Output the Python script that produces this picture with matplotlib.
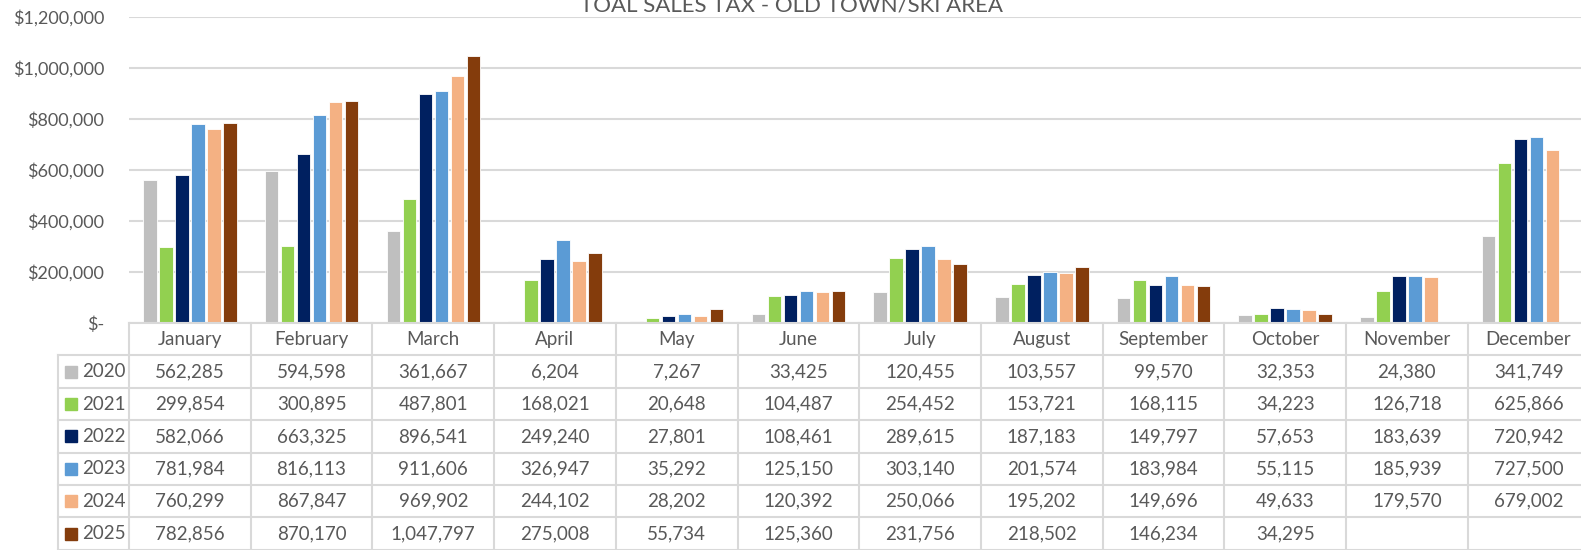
import matplotlib
matplotlib.use("Agg")
import matplotlib.pyplot as plt
from matplotlib.patches import Rectangle
from matplotlib.ticker import FuncFormatter
import numpy as np

# =========================
# Data
# =========================

months = ["January", "February", "March", "April", "May", "June",
          "July", "August", "September", "October", "November", "December"]

years = ["2020", "2021", "2022", "2023", "2024", "2025"]

sales_2020 = [562285, 594598, 361667, 6204, 7267, 33425, 120455, 103557, 99570, 32353, 24380, 341749]
sales_2021 = [299854, 300895, 487801, 168021, 20648, 104487, 254452, 153721, 168115, 34223, 126718, 625866]
sales_2022 = [582066, 663325, 896541, 249240, 27801, 108461, 289615, 187183, 149797, 57653, 183639, 720942]
sales_2023 = [781984, 816113, 911606, 326947, 35292, 125150, 303140, 201574, 183984, 55115, 185939, 727500]
sales_2024 = [760299, 867847, 969902, 244102, 28202, 120392, 250066, 195202, 149696, 49633, 179570, 679002]
sales_2025 = [782856, 870170, 1047797, 275008, 55734, 125360, 231756, 218502, 146234, 34295, None, None]

series = [sales_2020, sales_2021, sales_2022, sales_2023, sales_2024, sales_2025]

colors = ["#BFBFBF", "#92D050", "#002060", "#5B9BD5", "#F4B183", "#843C0C"]

title = "TOAL SALES TAX - OLD TOWN/SKI AREA"

# =========================
# Style
# =========================

plt.rcParams["font.family"] = ["Lato", "DejaVu Sans"]
text_color = "#595959"
grid_color = "#D9D9D9"

W, H = 1581, 550
fig = plt.figure(figsize=(W / 100, H / 100), dpi=100)

# pixel layout
cell_w = 121.7
plot_left = 129
plot_right = plot_left + 12 * cell_w
plot_top = 17
plot_bottom = 323
label_left = 58
row_h = 32.4

ax = fig.add_axes([plot_left / W, (H - plot_bottom) / H,
                   (plot_right - plot_left) / W, (plot_bottom - plot_top) / H])

# =========================
# Bars
# =========================

x = np.arange(len(months))
step = 16 / cell_w
bar_w = 13.5 / cell_w

for i, (vals, c) in enumerate(zip(series, colors)):
    v = np.array([np.nan if s is None else s for s in vals], dtype=float)
    ax.bar(x + (i - 2.5) * step, v, width=bar_w, color=c,
           edgecolor="white", linewidth=0.6, zorder=3)

ax.set_xlim(-0.5, 11.5)
ax.set_ylim(0, 1200000)
ax.set_yticks(np.arange(0, 1200001, 200000))
ax.yaxis.set_major_formatter(FuncFormatter(
    lambda v, p: "$-" if v == 0 else "${:,.0f}".format(v)))
ax.tick_params(axis="y", length=0, pad=18, labelsize=13, labelcolor=text_color)
ax.set_xticks([])
ax.grid(axis="y", color=grid_color, linewidth=1.5, zorder=0)
for s in ["top", "right", "left", "bottom"]:
    ax.spines[s].set_visible(False)

# =========================
# Title (cut at top)
# =========================

fig.text(792 / W, (H - 12) / H, title, ha="center", va="baseline",
         fontsize=16, color=text_color)

# =========================
# Data table
# =========================

tab = fig.add_axes([label_left / W, 0, (plot_right - label_left) / W, (H - plot_bottom) / H])
x_left = -0.5 - (plot_left - label_left) / cell_w
tab.set_xlim(x_left, 11.5)
n_rows = (H - plot_bottom) / row_h
tab.set_ylim(n_rows, 0)
tab.axis("off")

lw = 1.5
# header row top line and month separators
tab.plot([-0.5, 11.5], [0, 0], color=grid_color, lw=lw, clip_on=False)
for k in range(13):
    tab.plot([k - 0.5, k - 0.5], [0, n_rows], color=grid_color, lw=lw, clip_on=False)
tab.plot([x_left, x_left], [1, n_rows], color=grid_color, lw=lw, clip_on=False)
for r in range(1, 8):
    tab.plot([x_left, 11.5], [r, r], color=grid_color, lw=lw, clip_on=False)

for j, m in enumerate(months):
    tab.text(j, 0.5, m, ha="center", va="center", fontsize=13.5, color=text_color)

sq_w = 12 / cell_w
sq_h = 12 / row_h
for i, (yr, vals, c) in enumerate(zip(years, series, colors)):
    r = i + 1.5
    tab.add_patch(Rectangle((x_left + 7 / cell_w, r - sq_h / 2), sq_w, sq_h,
                            color=c, clip_on=False))
    tab.text(x_left + 24 / cell_w, r, yr, ha="left", va="center",
             fontsize=13.5, color=text_color)
    for j, v in enumerate(vals):
        if v is not None:
            tab.text(j, r, "{:,}".format(v), ha="center", va="center",
                     fontsize=13.5, color=text_color)

fig.savefig("out.png", dpi=100)
